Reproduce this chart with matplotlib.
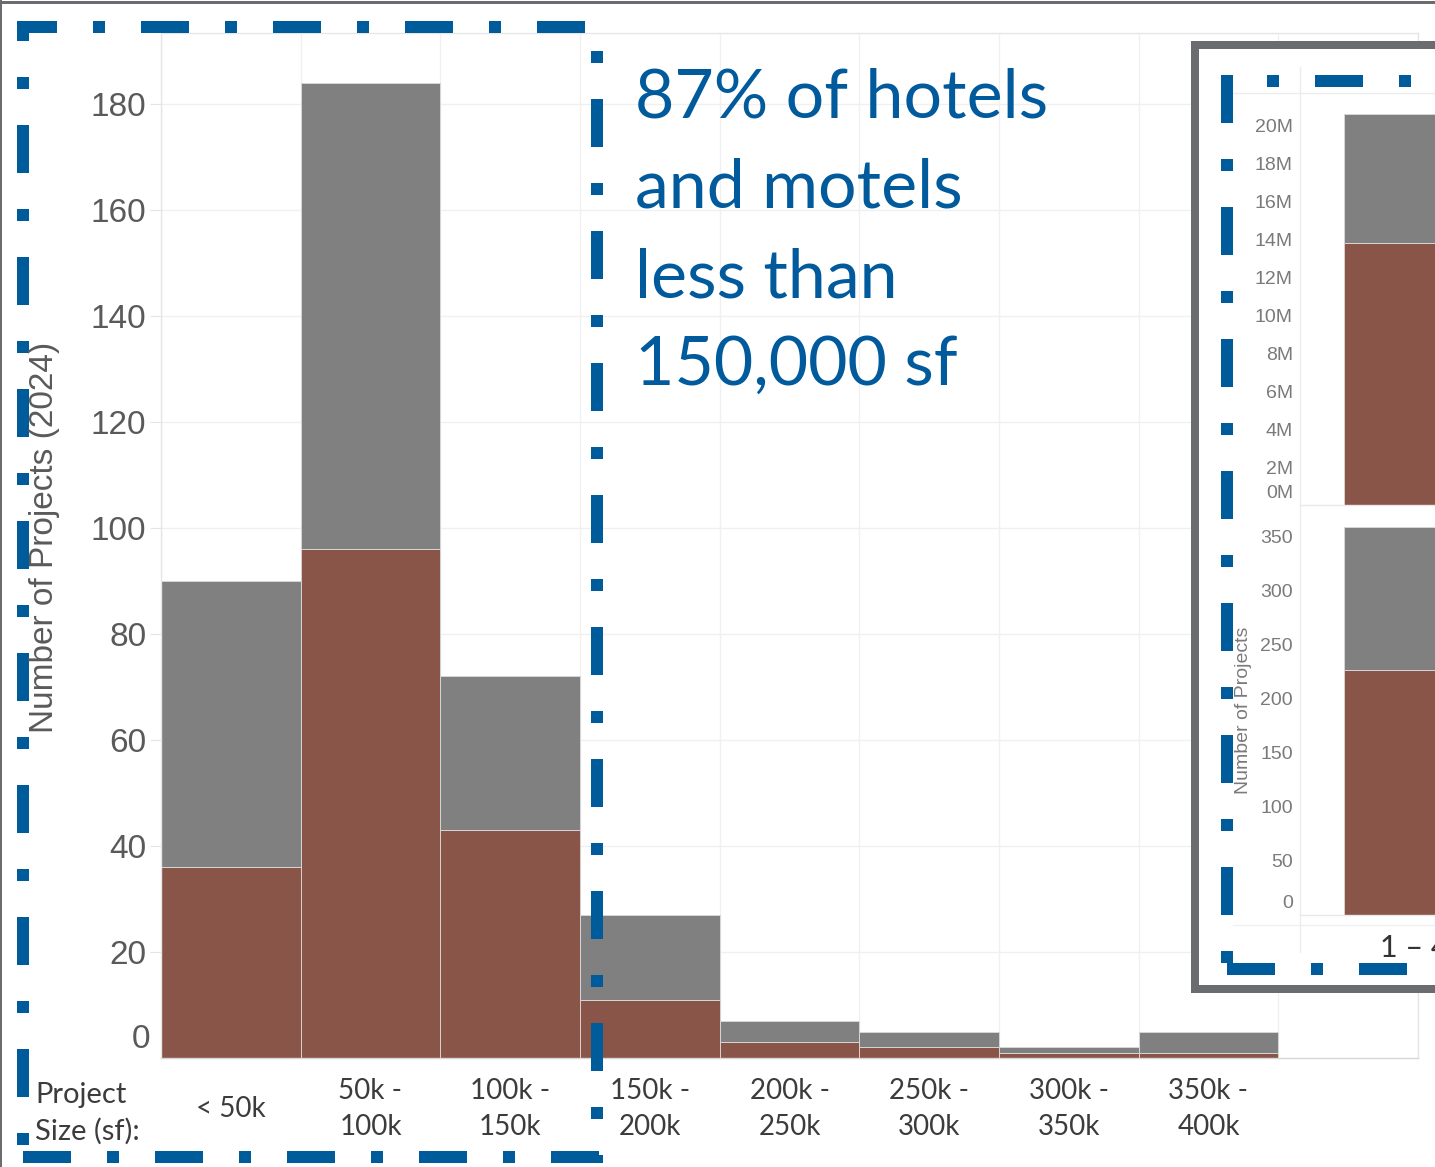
import matplotlib
matplotlib.use("Agg")
import matplotlib.pyplot as plt
from matplotlib.patches import Rectangle
from matplotlib.lines import Line2D
import numpy as np

plt.rcParams["lines.scale_dashes"] = False

# ---------------------------------------------------------------- data
size_bins = ["< 50k", "50k -\n100k", "100k -\n150k", "150k -\n200k",
             "200k -\n250k", "250k -\n300k", "300k -\n350k", "350k -\n400k"]
hotel_projects = [36, 96, 43, 11, 3, 2, 1, 1]      # lower (red) segment
other_projects = [54, 88, 29, 16, 4, 3, 1, 4]      # upper (gray) segment
count_ticks = [20, 40, 60, 80, 100, 120, 140, 160, 180]

inset_category = "1 – 4"
inset_sf_hotel = 13.8e6
inset_sf_other = 6.8e6
inset_sf_ticks = [2e6, 4e6, 6e6, 8e6, 10e6, 12e6, 14e6, 16e6, 18e6, 20e6]
inset_n_hotel = 227
inset_n_other = 132
inset_n_ticks = [50, 100, 150, 200, 250, 300, 350]

headline = ["87% of hotels", "and motels", "less than", "150,000 sf"]

# ---------------------------------------------------------------- style
W, H = 1435, 1167
RED = "#8a5549"
GRAY = "#808080"
BLUE = "#005b9a"
FRAME_GRAY = "#6b6c70"
TICK_GRAY = "#5a5a5a"
LIGHT = "#e6e6e6"
SANS = "Liberation Sans"
HUMANIST = "Lato"

fig = plt.figure(figsize=(W / 100, H / 100), dpi=100)
fig.patch.set_facecolor("white")


def rect(x0, y0, x1, y1):
    """Axes rectangle from pixel box (y measured from the top)."""
    return [x0 / W, 1 - y1 / H, (x1 - x0) / W, (y1 - y0) / H]


PT = 0.72  # points per pixel at 100 dpi

# ---------------------------------------------------------------- main chart
ax = fig.add_axes(rect(161, 33, 1418, 1058), zorder=1)
x = np.arange(len(size_bins)) + 0.5
ax.bar(x, hotel_projects, width=1.0, color=RED, edgecolor="#d9d1cf",
       linewidth=0.7, zorder=2)
ax.bar(x, other_projects, width=1.0, bottom=hotel_projects, color=GRAY,
       edgecolor="#d6d6d6", linewidth=0.7, zorder=2)
ax.set_xlim(0, 9)
ax.set_ylim(0, (1058 - 33) / 5.3)

ax.set_yticks(count_ticks)
ax.set_yticklabels([str(v) for v in count_ticks], fontsize=24,
                   family=SANS, color=TICK_GRAY)
ax.tick_params(axis="y", length=8, color="#e4e4e4", pad=2.5)
ax.annotate("0", xy=(0, 0), xycoords=("axes fraction", "data"),
            xytext=(-11 * PT, 18 * PT), textcoords="offset points",
            ha="right", va="center", fontsize=24, family=SANS,
            color=TICK_GRAY)

ax.set_xticks(x)
ax.set_xticklabels(size_bins, fontsize=20, family=HUMANIST,
                   color="#3c3c3c", linespacing=1.45)
for lab in ax.get_xticklabels():
    lab.set_verticalalignment("center")
ax.tick_params(axis="x", length=0, pad=51 * PT)
ax.set_xticks(np.arange(10), minor=True)
ax.tick_params(axis="x", which="minor", length=0)

ax.set_axisbelow(True)
ax.grid(axis="y", which="major", color="#f0f0f0", linewidth=1.0)
ax.grid(axis="x", which="minor", color="#f0f0f0", linewidth=1.0)
for side in ("left", "top", "right"):
    ax.spines[side].set_color(LIGHT)
    ax.spines[side].set_linewidth(1.0)
ax.spines["bottom"].set_color("#d6d6d6")
ax.spines["bottom"].set_linewidth(1.0)

# ---------------------------------------------------------------- inset panel
under = fig.add_axes([0, 0, 1, 1], zorder=2)
under.set_xlim(0, W)
under.set_ylim(H, 0)
under.axis("off")
under.add_patch(Rectangle((1195, 45), 400, 944, facecolor="white",
                          edgecolor=FRAME_GRAY, linewidth=8 * PT))
under.add_line(Line2D([1300, 1300], [67, 952], color="#ececec", lw=1))
under.add_line(Line2D([1233, 1440], [93, 93], color="#ececec", lw=1))
under.add_line(Line2D([1233, 1440], [925, 925], color="#f0f0f0", lw=1))

XL = (-0.65, 0.7)
ax_sf = fig.add_axes(rect(1300, 95, 1700, 505), zorder=3)
ax_sf.patch.set_alpha(0)
ax_sf.bar([0], [inset_sf_hotel], width=1.0, color=RED,
          edgecolor="#d9d1cf", linewidth=0.7)
ax_sf.bar([0], [inset_sf_other], width=1.0, bottom=[inset_sf_hotel],
          color=GRAY, edgecolor="#d6d6d6", linewidth=0.7)
ax_sf.set_xlim(*XL)
ax_sf.set_ylim(0, 21.6e6)
ax_sf.set_xticks([])
ax_sf.set_yticks(inset_sf_ticks)
ax_sf.set_yticklabels([f"{v / 1e6:.0f}M" for v in inset_sf_ticks],
                      fontsize=14, family=SANS, color="#7a7a7a")
ax_sf.tick_params(axis="y", length=0, pad=7 * PT)
ax_sf.annotate("0M", xy=(0, 0), xycoords=("axes fraction", "data"),
               xytext=(-7 * PT, 12 * PT), textcoords="offset points",
               ha="right", va="center", fontsize=14, family=SANS,
               color="#7a7a7a")

ax_n = fig.add_axes(rect(1300, 515, 1700, 915), zorder=3)
ax_n.patch.set_alpha(0)
ax_n.bar([0], [inset_n_hotel], width=1.0, color=RED,
         edgecolor="#d9d1cf", linewidth=0.7)
ax_n.bar([0], [inset_n_other], width=1.0, bottom=[inset_n_hotel],
         color=GRAY, edgecolor="#d6d6d6", linewidth=0.7)
ax_n.set_xlim(*XL)
ax_n.set_ylim(0, 370)
ax_n.set_xticks([])
ax_n.set_yticks(inset_n_ticks)
ax_n.set_yticklabels([str(v) for v in inset_n_ticks], fontsize=14,
                     family=SANS, color="#7a7a7a")
ax_n.tick_params(axis="y", length=0, pad=7 * PT)
ax_n.annotate("0", xy=(0, 0), xycoords=("axes fraction", "data"),
              xytext=(-7 * PT, 11 * PT), textcoords="offset points",
              ha="right", va="center", fontsize=14, family=SANS,
              color="#7a7a7a")

for a in (ax_sf, ax_n):
    for side in ("left", "top", "right"):
        a.spines[side].set_visible(False)
    a.spines["bottom"].set_color("#e8e8e8")
    a.spines["bottom"].set_linewidth(1.0)

# ---------------------------------------------------------------- annotations
top = fig.add_axes([0, 0, 1, 1], zorder=10)
top.set_xlim(0, W)
top.set_ylim(H, 0)
top.axis("off")
top.patch.set_alpha(0)

# outer screenshot border
top.add_line(Line2D([0, W], [1.5, 1.5], color=FRAME_GRAY, lw=3 * PT))
top.add_line(Line2D([1, 1], [0, H], color=FRAME_GRAY, lw=2 * PT))

top.text(45, 537, "Number of Projects (2024)", rotation=90, ha="center",
         va="center", fontsize=24, family=SANS, color=TICK_GRAY)
top.text(1244, 710, "Number of Projects", rotation=90, ha="center",
         va="center", fontsize=14, family=SANS, color="#7a7a7a")

top.text(35, 1103, "Project", fontsize=21, family=HUMANIST,
         color="#3c3c3c", va="baseline")
top.text(35, 1140, "Size (sf):", fontsize=21, family=HUMANIST,
         color="#3c3c3c", va="baseline")
top.text(1380, 957, inset_category, fontsize=22, family=HUMANIST,
         color="#333333", va="baseline", clip_on=False)

for line, base in zip(headline, [118, 207, 297, 385]):
    top.text(635, base, line, fontsize=49, family=HUMANIST, color="#005a9c",
             va="baseline")

# dash-dot highlight frames
DASH = [48 * PT, 36 * PT, 12 * PT, 36 * PT]


def dashed_edge(x0, y0, x1, y1, offset_px):
    top.add_line(Line2D([x0, x1], [y0, y1], color=BLUE, lw=12 * PT,
                        linestyle=(offset_px * PT, DASH),
                        dash_capstyle="butt", solid_capstyle="butt"))


# frame around the first three bins
dashed_edge(17, 27, 603, 27, 8)
dashed_edge(23, 21, 23, 1163, 28)
dashed_edge(597, 21, 597, 1163, 54)
dashed_edge(17, 1157, 603, 1157, 126)
# frame around the inset
dashed_edge(1227, 75, 1227, 975, 0)
dashed_edge(1233, 81, 1440, 81, 50)
dashed_edge(1221, 969, 1440, 969, 126)

fig.savefig("out.png", dpi=100, facecolor="white")
